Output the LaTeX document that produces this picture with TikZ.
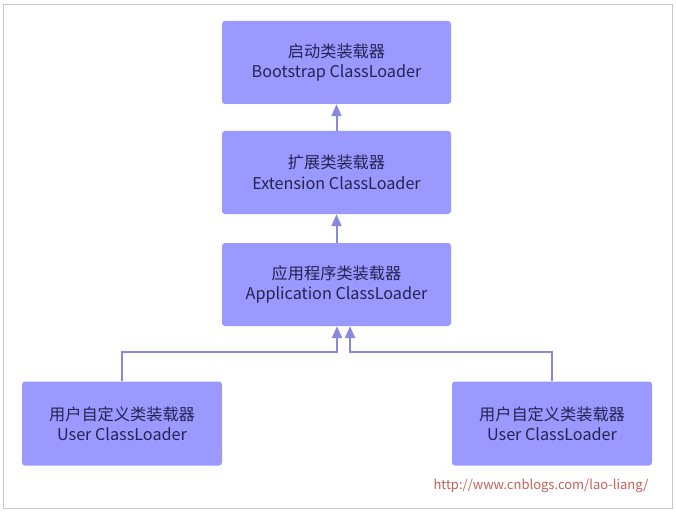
\documentclass[tikz,border=0pt]{standalone}
\usepackage{fontspec}
\setmainfont{Noto Sans CJK SC}
\usetikzlibrary{arrows.meta}
\definecolor{boxfill}{RGB}{153,153,255}
\definecolor{boxtext}{RGB}{36,36,80}
\definecolor{linecol}{RGB}{136,136,221}
\definecolor{urlcol}{RGB}{196,96,88}
\tikzset{
  loader/.style={fill=boxfill,rounded corners=3pt,align=center,text=boxtext,
    font=\fontsize{16.2}{20.5}\selectfont,inner sep=0pt},
  uparrow/.style={draw=linecol,line width=2pt,-{Triangle[width=10pt,length=12pt]}}
}
\begin{document}
\begin{tikzpicture}[x=1pt,y=-1pt]
	\useasboundingbox (0,0) rectangle (676,513);
	\draw[black!22] (3.5,4.5) rectangle (672.5,508.5);
	%LOADERS
	\node[loader,minimum width=229pt,minimum height=83pt] (boot) at (336.5,62.5) {启动类装载器\\Bootstrap ClassLoader};
	\node[loader,minimum width=229pt,minimum height=83pt] (ext) at (336.5,172.5) {扩展类装载器\\Extension ClassLoader};
	\node[loader,minimum width=229pt,minimum height=83pt] (app) at (336.5,284.5) {应用程序类装载器\\Application ClassLoader};
	\node[loader,minimum width=200pt,minimum height=84pt] (userl) at (122,423.5) {用户自定义类装载器\\User ClassLoader};
	\node[loader,minimum width=200pt,minimum height=84pt] (userr) at (552,423.5) {用户自定义类装载器\\User ClassLoader};
	%ARROWS
	\draw[uparrow] (ext.north) -- (boot.south);
	\draw[uparrow] (app.north) -- (ext.south);
	\draw[uparrow] (userl.north) -- ++(0,-29) -| ([xshift=0.5pt]app.south);
	\draw[uparrow] (userr.north) -- ++(0,-29) -| ([xshift=13.5pt]app.south);
	\node[text=urlcol,font=\fontsize{13}{15}\selectfont] (url) at (541,486) {http://www.cnblogs.com/lao-liang/};
\end{tikzpicture}
\end{document}
